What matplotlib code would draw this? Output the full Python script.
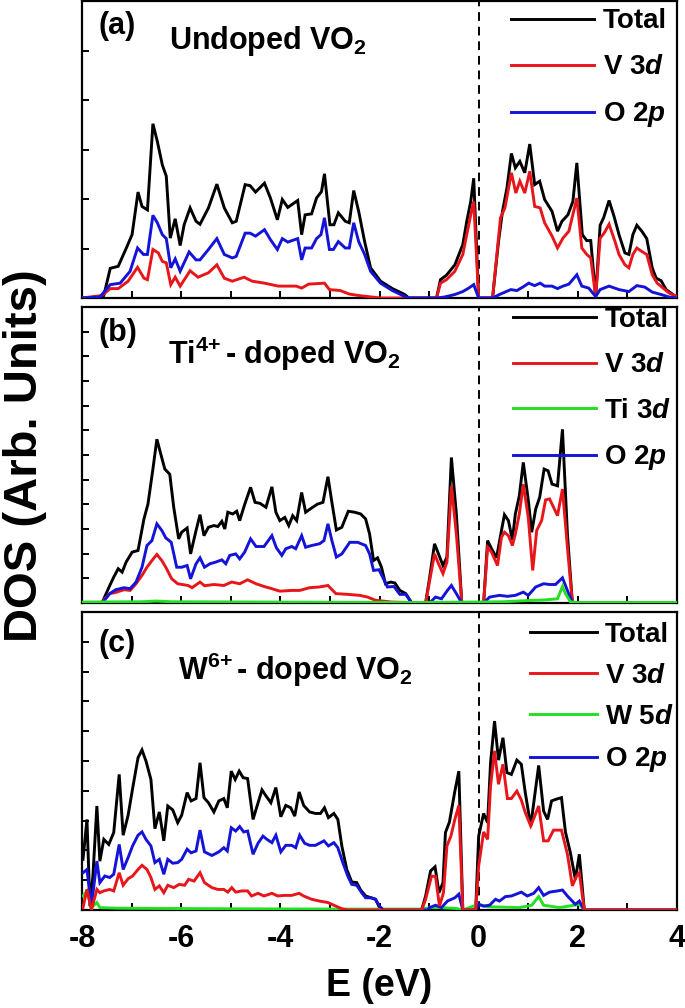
import matplotlib
matplotlib.use('Agg')
import matplotlib.pyplot as plt
from matplotlib.ticker import MultipleLocator, NullFormatter, FuncFormatter

plt.rcParams['font.family'] = ['Liberation Sans', 'DejaVu Sans']
plt.rcParams['font.weight'] = 'bold'
plt.rcParams['mathtext.fontset'] = 'custom'
plt.rcParams['mathtext.rm'] = 'Liberation Sans:bold'
plt.rcParams['mathtext.it'] = 'Liberation Sans:bold:italic'
plt.rcParams['mathtext.bf'] = 'Liberation Sans:bold'
plt.rcParams['mathtext.default'] = 'rm'

# ---------------- Panel (a): undoped VO2 ----------------
a_tot_E = [-8.0, -7.64, -7.56, -7.43, -7.27, -7.11, -6.99, -6.87, -6.79, -6.68, -6.57, -6.48, -6.38, -6.30,
           -6.22, -6.12, -6.02, -5.94, -5.82, -5.70, -5.62, -5.45, -5.28, -5.13, -4.97, -4.89, -4.71, -4.61,
           -4.50, -4.32, -4.20, -4.06, -3.96, -3.85, -3.65, -3.57, -3.50, -3.37, -3.27, -3.17, -3.11, -3.00,
           -2.92, -2.83, -2.69, -2.61, -2.52, -2.42, -2.30, -2.18, -1.98, -1.74, -1.49, -1.41, -0.85, -0.77,
           -0.65, -0.48, -0.32, -0.24, -0.16, -0.10, 0.0, 0.28, 0.40, 0.48, 0.57, 0.66, 0.74, 0.83, 0.93,
           1.03, 1.13, 1.23, 1.33, 1.48, 1.59, 1.68, 1.80, 1.90, 1.98, 2.09, 2.18, 2.26, 2.36, 2.45, 2.52,
           2.63, 2.73, 2.83, 2.95, 3.03, 3.11, 3.19, 3.29, 3.39, 3.50, 3.58, 3.68, 3.78, 3.92, 4.0]
a_tot = [0, 0, 0.05, 0.60, 0.64, 1.00, 1.28, 2.14, 1.85, 1.78, 3.52, 3.16, 2.69, 2.46,
         1.21, 1.60, 1.06, 1.48, 1.82, 1.55, 1.49, 1.82, 2.30, 1.82, 1.52, 1.55, 2.29, 2.27,
         2.14, 2.32, 2.02, 1.58, 1.99, 1.83, 1.97, 1.28, 1.68, 1.70, 2.02, 2.15, 2.51, 1.48,
         1.48, 1.72, 1.55, 1.52, 2.17, 1.75, 1.14, 0.61, 0.34, 0.19, 0.07, 0, 0, 0.37,
         0.46, 0.67, 1.08, 1.55, 1.95, 2.42, 0, 0, 1.14, 1.75, 2.22, 2.92, 2.63, 2.76, 2.53,
         3.11, 2.29, 2.36, 1.99, 1.75, 1.35, 1.55, 1.68, 1.95, 2.73, 1.28, 1.16, 1.16, 0.03, 1.47, 1.62,
         1.97, 1.65, 1.28, 0.91, 0.88, 1.28, 1.47, 1.35, 1.20, 0.61, 0.40, 0.35, 0.17, 0.07, 0]

a_v_E = [-8.0, -7.60, -7.43, -7.27, -7.07, -6.88, -6.75, -6.68, -6.57, -6.46, -6.38, -6.30, -6.21, -6.12,
         -6.02, -5.82, -5.66, -5.45, -5.28, -5.13, -4.97, -4.73, -4.57, -4.32, -4.04, -3.68, -3.57, -3.43,
         -3.11, -3.01, -2.79, -2.61, -2.42, -1.98, -0.85, -0.77, -0.65, -0.48, -0.32, -0.24, -0.16, -0.10,
         0.0, 0.28, 0.44, 0.53, 0.66, 0.75, 0.83, 0.93, 1.03, 1.13, 1.24, 1.33, 1.48, 1.59, 1.70, 1.82,
         1.98, 2.08, 2.18, 2.26, 2.36, 2.45, 2.53, 2.63, 2.75, 2.83, 2.95, 3.03, 3.11, 3.19, 3.29, 3.39,
         3.50, 3.60, 3.72, 3.84, 4.0]
a_v = [0, 0.05, 0.19, 0.19, 0.34, 0.62, 0.40, 0.37, 0.98, 0.91, 0.74, 0.71, 0.27, 0.42,
       0.24, 0.55, 0.42, 0.51, 0.67, 0.40, 0.34, 0.42, 0.34, 0.30, 0.24, 0.24, 0.20, 0.28,
       0.30, 0.17, 0.15, 0.08, 0.05, 0, 0, 0.30, 0.37, 0.54, 0.88, 1.28, 1.68, 1.95,
       0, 0, 1.62, 1.82, 2.53, 2.12, 2.36, 2.12, 2.56, 1.85, 1.82, 1.52, 1.25, 1.01, 1.21, 1.35,
       2.02, 1.01, 0.88, 0.81, 0.03, 1.21, 1.31, 1.49, 1.14, 0.88, 0.67, 0.61, 0.88, 1.01, 0.94, 0.88,
       0.47, 0.30, 0.20, 0.10, 0.03]

a_o_E = [-8.0, -7.64, -7.43, -7.23, -7.03, -6.88, -6.76, -6.68, -6.57, -6.48, -6.38, -6.30, -6.21, -6.12,
         -6.02, -5.84, -5.70, -5.62, -5.45, -5.28, -5.13, -4.97, -4.89, -4.71, -4.61, -4.50, -4.32, -4.20,
         -4.06, -3.96, -3.85, -3.65, -3.57, -3.50, -3.37, -3.27, -3.18, -3.11, -3.01, -2.93, -2.83, -2.69,
         -2.61, -2.52, -2.42, -2.30, -2.18, -1.98, -1.74, -1.49, -1.41, -0.85, -0.69, -0.48, -0.32, -0.20,
         -0.10, 0.0, 0.28, 0.44, 0.65, 0.77, 0.89, 1.01, 1.13, 1.24, 1.33, 1.48, 1.59, 1.70, 1.82, 1.98,
         2.08, 2.22, 2.36, 2.45, 2.63, 2.83, 3.03, 3.19, 3.35, 3.50, 3.68, 3.84, 4.0]
a_o = [0, 0.02, 0.27, 0.30, 0.54, 1.01, 0.88, 0.88, 1.67, 1.52, 1.28, 1.20, 0.61, 0.79,
       0.54, 0.93, 0.77, 0.77, 0.98, 1.20, 0.88, 0.81, 0.84, 1.31, 1.31, 1.25, 1.38, 1.18,
       0.98, 1.20, 1.13, 1.20, 0.77, 1.01, 1.01, 1.20, 1.28, 1.62, 0.98, 0.98, 1.14, 1.01,
       1.01, 1.52, 1.14, 0.88, 0.54, 0.30, 0.15, 0.03, 0, 0, 0.02, 0.07, 0.13, 0.20,
       0.27, 0, 0, 0.08, 0.17, 0.15, 0.22, 0.30, 0.25, 0.30, 0.24, 0.24, 0.19, 0.24, 0.28, 0.47,
       0.24, 0.20, 0.03, 0.17, 0.24, 0.17, 0.13, 0.25, 0.22, 0.12, 0.07, 0.02, 0]

# ---------------- Panel (b): Ti4+-doped VO2 ----------------
b_tot_E = [-8.0, -7.60, -7.56, -7.44, -7.36, -7.27, -7.19, -7.11, -6.99, -6.87, -6.75, -6.67, -6.57, -6.49,
           -6.41, -6.33, -6.23, -6.15, -6.05, -5.99, -5.88, -5.81, -5.70, -5.62, -5.54, -5.45, -5.34, -5.26,
           -5.18, -5.12, -5.06, -4.96, -4.88, -4.82, -4.72, -4.60, -4.51, -4.41, -4.29, -4.17, -4.09, -4.01,
           -3.91, -3.83, -3.75, -3.67, -3.57, -3.49, -3.37, -3.25, -3.14, -3.04, -2.96, -2.87, -2.76, -2.63,
           -2.50, -2.38, -2.28, -2.20, -2.12, -2.04, -1.96, -1.88, -1.77, -1.69, -1.59, -1.47, -1.35, -1.07,
           -0.99, -0.89, -0.81, -0.72, -0.64, -0.55, -0.45, -0.34, 0.10, 0.18, 0.26, 0.36, 0.46, 0.52, 0.60,
           0.68, 0.74, 0.82, 0.90, 1.00, 1.07, 1.15, 1.23, 1.32, 1.40, 1.48, 1.59, 1.69, 1.79, 1.89, 4.0]
b_tot = [0, 0, 0.17, 0.71, 1.05, 1.39, 1.25, 1.66, 2.06, 2.13, 3.41, 4.01, 5.43, 6.64,
         6.03, 5.43, 5.22, 3.88, 2.60, 2.87, 3.04, 1.99, 2.94, 3.58, 2.73, 3.07, 3.14, 3.10,
         3.31, 3.00, 3.68, 3.61, 3.72, 3.34, 3.99, 4.69, 4.08, 4.04, 3.88, 4.71, 3.68, 3.34,
         3.47, 3.14, 3.54, 3.34, 4.48, 3.68, 3.85, 4.01, 4.08, 5.12, 4.08, 2.96, 3.07, 3.72,
         3.68, 3.61, 3.41, 2.80, 1.72, 1.83, 1.45, 0.78, 0.85, 0.81, 0.51, 0.38, 0, 0,
         1.02, 2.40, 1.99, 1.52, 1.86, 5.90, 3.61, 0, 0, 2.53, 2.20, 1.83, 2.94, 3.58, 3.34,
         2.56, 3.61, 4.35, 5.70, 4.18, 2.87, 3.81, 4.28, 5.43, 5.36, 4.82, 4.75, 7.04, 2.80, 0, 0]

b_v_E = [-8.0, -7.60, -7.56, -7.44, -7.32, -7.15, -7.03, -6.91, -6.79, -6.69, -6.59, -6.49, -6.39, -6.31,
         -6.19, -6.07, -5.86, -5.78, -5.62, -5.53, -5.34, -5.14, -4.98, -4.82, -4.66, -4.49, -4.33, -4.17,
         -4.01, -3.77, -3.61, -3.41, -3.21, -3.04, -2.88, -2.64, -2.40, -2.24, -2.08, -1.76, -1.07, -0.99,
         -0.89, -0.81, -0.72, -0.64, -0.55, -0.45, -0.34, 0.10, 0.18, 0.26, 0.38, 0.46, 0.52, 0.60, 0.68,
         0.74, 0.82, 0.90, 1.00, 1.09, 1.17, 1.27, 1.35, 1.43, 1.51, 1.59, 1.69, 1.79, 1.89, 4.0]
b_v = [0, 0, 0.13, 0.38, 0.43, 0.54, 0.51, 0.78, 1.12, 1.45, 1.72, 1.97, 1.72, 1.45,
       0.98, 0.78, 0.71, 0.62, 0.85, 0.70, 0.75, 0.71, 0.85, 0.78, 0.94, 0.78, 0.67, 0.58,
       0.48, 0.51, 0.51, 0.62, 0.65, 0.71, 0.38, 0.35, 0.31, 0.24, 0.11, 0.04, 0, 0.89,
       1.99, 1.59, 1.19, 1.66, 4.75, 2.80, 0, 0, 2.26, 2.06, 1.52, 2.67, 2.87, 2.73, 2.33,
       2.80, 3.61, 4.82, 3.47, 1.32, 2.94, 3.34, 4.18, 4.22, 3.88, 3.54, 4.62, 2.26, 0, 0]

b_o_E = [-8.0, -7.60, -7.56, -7.44, -7.32, -7.15, -7.03, -6.91, -6.79, -6.69, -6.59, -6.49, -6.39, -6.31,
         -6.20, -6.09, -5.99, -5.88, -5.81, -5.70, -5.62, -5.53, -5.42, -5.30, -5.18, -5.10, -5.02, -4.90,
         -4.82, -4.72, -4.60, -4.49, -4.33, -4.17, -4.08, -3.97, -3.89, -3.77, -3.69, -3.57, -3.49, -3.37,
         -3.21, -3.12, -3.04, -2.96, -2.87, -2.76, -2.60, -2.44, -2.28, -2.20, -2.12, -2.01, -1.92, -1.84,
         -1.71, -1.59, -1.47, -1.35, -0.99, -0.87, -0.75, -0.63, -0.55, -0.45, -0.34, 0.10, 0.22, 0.42,
         0.58, 0.74, 0.90, 1.00, 1.15, 1.31, 1.43, 1.55, 1.69, 1.79, 1.89, 4.0]
b_o = [0, 0, 0.08, 0.38, 0.54, 0.62, 0.58, 0.85, 1.45, 2.33, 2.53, 3.21, 2.94, 2.64,
       2.46, 1.45, 1.45, 1.52, 0.98, 1.59, 1.83, 1.45, 1.59, 1.66, 1.75, 1.59, 1.93, 1.99,
       1.79, 2.06, 2.60, 2.29, 2.29, 2.73, 2.24, 1.93, 2.20, 2.29, 2.20, 2.73, 2.26, 2.33,
       2.40, 2.53, 3.21, 2.53, 1.86, 1.99, 2.46, 2.46, 2.33, 1.99, 1.32, 1.35, 0.98, 0.65,
       0.67, 0.35, 0.35, 0, 0, 0.24, 0.17, 0.51, 0.71, 0.38, 0, 0, 0.24, 0.31,
       0.27, 0.31, 0.44, 0.31, 0.65, 0.78, 0.75, 0.75, 1.02, 0.51, 0, 0]

b_ti_E = [-8.0, -6.8, -6.5, -6.2, -3.0, -1.4, -0.6, 0.5, 1.0, 1.3, 1.59, 1.69, 1.75, 1.85, 2.0, 4.0]
b_ti = [0.04, 0.05, 0.08, 0.05, 0.03, 0.02, 0.03, 0.05, 0.10, 0.12, 0.17, 0.67, 0.38, 0.05, 0.02, 0.02]

# ---------------- Panel (c): W6+-doped VO2 ----------------
c_tot_E = [-7.98, -7.90, -7.84, -7.78, -7.70, -7.64, -7.56, -7.46, -7.36, -7.25, -7.17, -7.07, -6.98, -6.87,
           -6.79, -6.71, -6.61, -6.53, -6.44, -6.35, -6.27, -6.17, -6.07, -5.99, -5.88, -5.80, -5.70, -5.62,
           -5.54, -5.45, -5.34, -5.24, -5.14, -5.07, -4.99, -4.91, -4.83, -4.75, -4.66, -4.55, -4.48, -4.37,
           -4.29, -4.19, -4.09, -3.99, -3.89, -3.79, -3.71, -3.62, -3.53, -3.41, -3.29, -3.19, -3.11, -3.03,
           -2.92, -2.84, -2.76, -2.66, -2.56, -2.46, -2.38, -2.28, -2.17, -2.08, -2.00, -1.92, -1.15, -1.07,
           -0.97, -0.88, -0.80, -0.72, -0.67, -0.59, -0.48, -0.40, -0.32, -0.06, 0.0, 0.10, 0.18, 0.24,
           0.32, 0.40, 0.49, 0.57, 0.66, 0.77, 0.86, 0.94, 1.05, 1.12, 1.21, 1.31, 1.39, 1.47, 1.55, 1.67,
           1.75, 1.85, 1.95, 2.03, 2.13, 4.0]
c_tot = [1.70, 3.04, 0.13, 1.14, 3.49, 1.64, 2.37, 2.20, 2.60, 4.55, 2.51, 3.18, 4.07, 5.11,
         5.37, 5.00, 4.38, 2.73, 3.29, 2.32, 3.49, 3.36, 2.93, 3.18, 3.94, 3.66, 3.74, 4.94,
         3.77, 3.60, 3.29, 3.66, 3.74, 3.43, 4.66, 4.38, 4.66, 4.44, 4.41, 3.04, 3.43, 4.03,
         3.83, 3.60, 4.11, 3.13, 3.51, 3.43, 3.15, 3.96, 3.51, 3.29, 3.24, 3.24, 3.43, 3.10,
         3.24, 3.04, 2.15, 1.36, 0.94, 0.92, 0.67, 0.47, 0.41, 0.36, 0.08, 0, 0, 0.47,
         1.31, 1.45, 0.58, 0.92, 2.60, 2.95, 3.99, 4.66, 0, 0, 2.48, 3.24, 2.93, 4.94,
         6.34, 5.03, 5.78, 4.61, 4.55, 5.03, 4.89, 3.94, 2.82, 3.71, 4.85, 3.32, 3.04, 3.66, 3.71, 3.77,
         2.62, 1.92, 1.03, 1.87, 0, 0]

c_v_E = [-7.98, -7.90, -7.81, -7.70, -7.64, -7.56, -7.44, -7.36, -7.25, -7.17, -7.07, -6.98, -6.87, -6.79,
         -6.69, -6.61, -6.53, -6.44, -6.35, -6.27, -6.15, -6.04, -5.93, -5.85, -5.74, -5.62, -5.53, -5.38,
         -5.26, -5.14, -5.06, -4.98, -4.90, -4.78, -4.66, -4.58, -4.45, -4.33, -4.17, -4.05, -3.93, -3.77,
         -3.62, -3.53, -3.37, -3.21, -3.04, -2.88, -2.76, -2.64, -1.15, -1.07, -0.95, -0.87, -0.79, -0.71,
         -0.64, -0.56, -0.48, -0.40, -0.32, -0.06, 0.0, 0.10, 0.18, 0.24, 0.32, 0.40, 0.49, 0.58, 0.66,
         0.77, 0.86, 0.94, 1.05, 1.13, 1.21, 1.31, 1.40, 1.51, 1.67, 1.79, 1.89, 1.97, 2.03, 2.13, 4.0]
c_v = [0.08, 0.69, 0, 0.69, 0.58, 0.64, 0.69, 0.64, 1.25, 0.83, 1.05, 1.14, 1.36, 1.50,
       1.36, 1.09, 0.69, 0.81, 0.58, 0.83, 0.75, 0.86, 0.83, 1.03, 0.97, 1.25, 0.92, 0.75,
       0.69, 0.69, 0.60, 0.75, 0.60, 0.64, 0.64, 0.47, 0.56, 0.47, 0.56, 0.47, 0.49, 0.49,
       0.56, 0.47, 0.36, 0.30, 0.25, 0.13, 0.04, 0, 0, 0.36, 1.14, 1.12, 0.13, 0.58,
       2.15, 2.48, 3.04, 3.51, 0, 0, 1.48, 2.62, 2.37, 4.16, 5.34, 4.22, 4.89, 3.74, 3.74,
       3.99, 3.69, 3.27, 2.82, 3.15, 3.49, 2.32, 2.32, 2.68, 2.68, 1.87, 0.81, 1.12, 1.25, 0, 0]

c_o_E = [-7.98, -7.90, -7.81, -7.70, -7.64, -7.54, -7.44, -7.36, -7.25, -7.17, -7.07, -6.98, -6.87, -6.79,
         -6.71, -6.61, -6.53, -6.44, -6.35, -6.27, -6.17, -6.07, -5.99, -5.88, -5.80, -5.70, -5.62, -5.53,
         -5.38, -5.24, -5.14, -5.07, -4.99, -4.90, -4.82, -4.74, -4.66, -4.55, -4.45, -4.35, -4.27, -4.17,
         -4.09, -3.99, -3.89, -3.77, -3.69, -3.61, -3.51, -3.41, -3.29, -3.12, -3.03, -2.92, -2.84, -2.74,
         -2.64, -2.56, -2.46, -2.36, -2.28, -2.17, -2.08, -2.00, -1.92, -1.03, -0.99, -0.87, -0.75, -0.63,
         -0.48, -0.40, -0.32, -0.06, 0.0, 0.10, 0.22, 0.34, 0.42, 0.54, 0.66, 0.86, 0.98, 1.11, 1.21,
         1.31, 1.43, 1.59, 1.69, 1.79, 1.95, 2.03, 2.13, 4.0]
c_o = [1.25, 1.36, 0.13, 1.64, 0.92, 1.14, 1.09, 1.20, 2.20, 1.36, 1.76, 2.15, 2.51, 2.62,
       2.37, 2.15, 1.59, 1.70, 1.20, 1.70, 1.57, 1.59, 1.70, 2.04, 1.92, 1.98, 2.68, 1.95,
       1.83, 1.95, 2.09, 1.98, 2.76, 2.65, 2.80, 2.62, 2.65, 1.87, 2.24, 2.48, 2.37, 2.26,
       2.51, 1.95, 2.17, 2.17, 2.09, 2.51, 2.24, 2.17, 2.17, 2.32, 2.15, 2.26, 2.09, 1.59,
       1.14, 0.86, 0.83, 0.58, 0.41, 0.41, 0.36, 0.13, 0, 0, 0.08, 0.16, 0.08, 0.30,
       0.41, 0.53, 0, 0, 0.19, 0.13, 0.16, 0.36, 0.30, 0.45, 0.47, 0.60, 0.47, 0.56, 0.75,
       0.49, 0.60, 0.64, 0.67, 0.47, 0.19, 0.30, 0, 0]

c_w_E = [-7.98, -7.90, -7.81, -7.70, -7.64, -7.30, -5.00, -2.70, -1.20, -0.95, -0.79, -0.45, -0.32, 0.0,
         0.18, 0.82, 1.07, 1.21, 1.31, 1.63, 2.03, 2.13, 4.0]
c_w = [0.47, 0.64, 0.08, 0.25, 0.08, 0.06, 0.04, 0.03, 0.03, 0.08, 0.08, 0.05, 0, 0.19,
       0.11, 0.08, 0.16, 0.45, 0.16, 0.08, 0.19, 0, 0]

# ---------------- Figure ----------------
FW, FH = 685, 1008
fig = plt.figure(figsize=(FW / 100, FH / 100), dpi=100)
L, R = 82, 677

def rect(top, bot):
    return [L / FW, 1 - bot / FH, (R - L) / FW, (bot - top) / FH]

C_TOT, C_V, C_O, C_G = 'black', '#e8161b', '#1414d8', '#22e022'
LW = 2.1

panels = [
    dict(r=(1, 298), ymax=6, lab='(a)', lab_y=0.889,
         title='Undoped VO$_2$', t_x=0.147, t_y=0.838,
         series=[(a_tot_E, a_tot, C_TOT, 'Total', 3),
                 (a_v_E, a_v, C_V, 'V 3$\\mathit{d}$', 4),
                 (a_o_E, a_o, C_O, 'O 2$\\mathit{p}$', 5)],
         leg=(0.721, 0.975), lspace=0.72, hlen=3.0),
    dict(r=(307, 603), ymax=12, lab='(b)', lab_y=0.885,
         title='Ti$^{4\\!+}$- doped VO$_2$', t_x=0.145, t_y=0.806,
         series=[(b_tot_E, b_tot, C_TOT, 'Total', 3),
                 (b_v_E, b_v, C_V, 'V 3$\\mathit{d}$', 4),
                 (b_ti_E, b_ti, C_G, 'Ti 3$\\mathit{d}$', 6),
                 (b_o_E, b_o, C_O, 'O 2$\\mathit{p}$', 5)],
         leg=(0.724, 1.0), lspace=0.70, hlen=3.0),
    dict(r=(612, 910), ymax=10, lab='(c)', lab_y=0.866,
         title='W$^{6\\!+}$- doped VO$_2$', t_x=0.162, t_y=0.772,
         series=[(c_tot_E, c_tot, C_TOT, 'Total', 3),
                 (c_v_E, c_v, C_V, 'V 3$\\mathit{d}$', 5),
                 (c_w_E, c_w, C_G, 'W 5$\\mathit{d}$', 4),
                 (c_o_E, c_o, C_O, 'O 2$\\mathit{p}$', 4.5)],
         leg=(0.753, 0.968), lspace=0.55, hlen=2.4),
]

axes = []
for i, p in enumerate(panels):
    ax = fig.add_axes(rect(*p['r']))
    axes.append(ax)
    for E, D, col, lab, z in p['series']:
        ax.plot(E, D, color=col, lw=LW, label=lab, zorder=z, solid_joinstyle='miter')
    ax.axvline(0, color='black', lw=1.4, ls=(0, (4.5, 3)), zorder=2)
    ax.set_xlim(-8, 4)
    ax.set_ylim(0, p['ymax'])
    ax.xaxis.set_major_locator(MultipleLocator(2))
    ax.xaxis.set_minor_locator(MultipleLocator(1))
    ax.yaxis.set_major_locator(MultipleLocator(1))
    ax.yaxis.set_major_formatter(NullFormatter())
    ax.tick_params(axis='both', which='both', direction='in', length=5, width=1.4,
                   top=False, right=False)
    if i < 2:
        ax.xaxis.set_major_formatter(NullFormatter())
    else:
        ax.xaxis.set_major_formatter(FuncFormatter(lambda v, pos: '%d' % v))
        ax.tick_params(axis='x', labelsize=22, pad=10)
    for s in ax.spines.values():
        s.set_linewidth(1.6)
    ax.text(0.027, p['lab_y'], p['lab'], transform=ax.transAxes, fontsize=22,
            fontweight='bold', ha='left', va='baseline')
    ax.text(p['t_x'], p['t_y'], p['title'], transform=ax.transAxes, fontsize=22,
            fontweight='bold', ha='left', va='baseline')
    ax.legend(loc='upper left', bbox_to_anchor=p['leg'], frameon=False, fontsize=20,
              handlelength=p['hlen'], handletextpad=0.3, labelspacing=p['lspace'],
              borderpad=0, borderaxespad=0)

fig.text(0.036, 1 - 456 / FH, 'DOS (Arb. Units)', rotation=90, fontsize=34, fontweight='bold',
         ha='center', va='center')
fig.text((L + R) / 2 / FW, 0.022, 'E (eV)', fontsize=27, fontweight='bold',
         ha='center', va='center')

fig.savefig('out.png', dpi=100)
